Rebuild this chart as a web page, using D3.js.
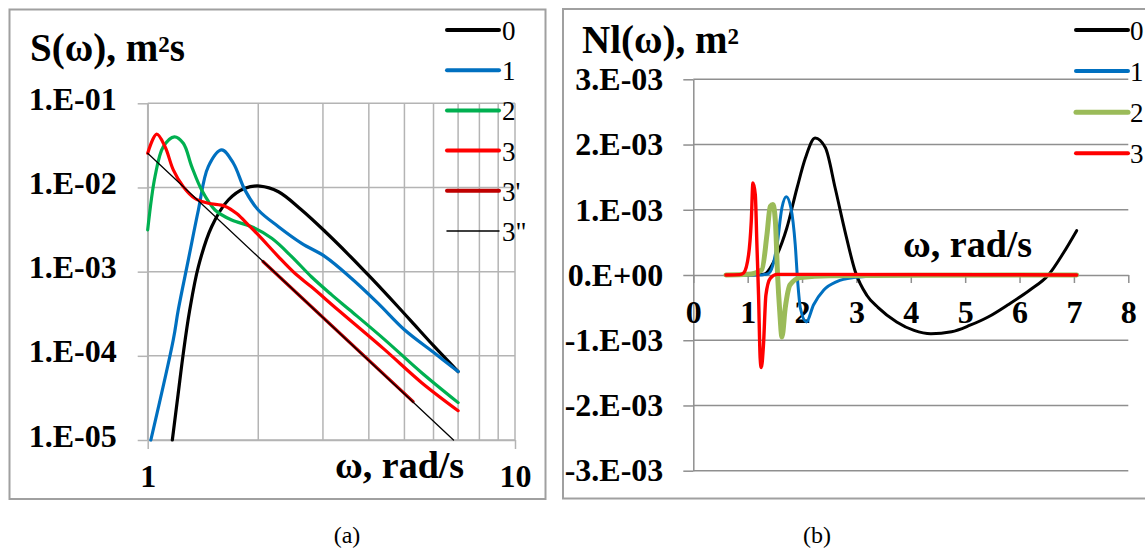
<!DOCTYPE html>
<html>
<head>
<meta charset="utf-8">
<script src="https://cdn.jsdelivr.net/npm/d3@7"></script>
<style>
  html, body { margin: 0; padding: 0; background: #fff; }
  svg { display: block; font-family: "Liberation Serif", "Times New Roman", serif; }
</style>
</head>
<body>
<svg id="fig" width="1145" height="550"></svg>
<script>
// ---------- (a) wave spectra S(ω), log-log ----------
const specTicksY  = [1e-1, 1e-2, 1e-3, 1e-4, 1e-5];
const specLabelsY = ["1.E-01", "1.E-02", "1.E-03", "1.E-04", "1.E-05"];
const specTicksX  = [1, 10];
const specLabelsX = ["1", "10"];
const specGridX   = [1, 2, 3, 4, 5, 6, 7, 8, 9, 10];
const specNames   = ["0", "1", "2", "3", "3'", "3\""];

const spec0W = [1.167, 1.21, 1.25, 1.30, 1.374, 1.493, 1.657, 1.84, 2.02, 2.27, 2.625, 3.04, 3.51, 4.07, 4.81, 5.23, 6.0, 7.0];
const spec0S = [1.0e-5, 3.5e-5, 1.07e-4, 3.4e-4, 1.15e-3, 3.42e-3, 7.1e-3, 9.8e-3, 1.04e-2, 8.9e-3, 5.4e-3, 3.0e-3, 1.62e-3, 8.3e-4, 3.8e-4, 2.55e-4, 1.32e-4, 6.5e-5];

const spec1W = [1.02, 1.174, 1.211, 1.29, 1.374, 1.462, 1.59, 1.711, 1.84, 2.0, 2.27, 2.625, 3.04, 3.59, 4.24, 5.0, 6.0, 7.0];
const spec1S = [1.0e-5, 1.55e-4, 3.5e-4, 1.38e-3, 5.4e-3, 1.77e-2, 2.79e-2, 1.94e-2, 9.3e-3, 5.4e-3, 3.42e-3, 2.17e-3, 1.51e-3, 8.3e-4, 4.2e-4, 2.04e-4, 1.1e-4, 6.5e-5];

const spec2W = [1.0, 1.047, 1.103, 1.182, 1.25, 1.318, 1.403, 1.525, 1.693, 1.918, 2.176, 2.466, 2.79, 3.17, 3.55, 4.4, 5.57, 7.0];
const spec2S = [3.13e-3, 1.35e-2, 3.05e-2, 4.0e-2, 3.35e-2, 1.77e-2, 9.3e-3, 5.4e-3, 4.1e-3, 3.42e-3, 2.49e-3, 1.51e-3, 8.7e-4, 5.3e-4, 3.5e-4, 1.58e-4, 6.3e-5, 2.78e-5];

const spec3W = [1.0, 1.058, 1.115, 1.174, 1.25, 1.345, 1.462, 1.623, 1.747, 1.878, 2.0, 2.268, 2.52, 2.79, 3.30, 4.4, 5.57, 7.0];
const spec3S = [2.55e-2, 4.3e-2, 3.05e-2, 1.62e-2, 1.02e-2, 7.4e-3, 6.5e-3, 6.0e-3, 4.9e-3, 3.6e-3, 2.73e-3, 1.51e-3, 9.5e-4, 6.6e-4, 3.5e-4, 1.2e-4, 4.8e-5, 2.23e-5];

const spec3pW  = [2.06, 5.28];
const spec3pS  = [1.32e-3, 2.86e-5];
const spec3ppW = [1.0, 6.8];
const spec3ppS = [2.55e-2, 1.0e-5];

// ---------- (b) Nl(ω), linear ----------
const nlTicksY  = [3e-3, 2e-3, 1e-3, 0, -1e-3, -2e-3, -3e-3];
const nlLabelsY = ["3.E-03", "2.E-03", "1.E-03", "0.E+00", "-1.E-03", "-2.E-03", "-3.E-03"];
const nlTicksX  = [0, 1, 2, 3, 4, 5, 6, 7, 8];
const nlLabelsX = ["0", "1", "2", "3", "4", "5", "6", "7", "8"];
const nlNames   = ["0", "1", "2", "3"];

const nl0W = [0.6, 1.0, 1.29, 1.54, 1.72, 1.906, 2.06, 2.24, 2.43, 2.61, 2.79, 2.98, 3.19, 3.4, 3.74, 4.06, 4.37, 4.75, 5.09, 5.43, 5.78, 6.19, 6.53, 6.8, 7.05];
const nl0V = [0, 0, 0.01e-3, 0.31e-3, 0.72e-3, 1.33e-3, 1.79e-3, 2.1e-3, 1.95e-3, 1.33e-3, 0.67e-3, 0.05e-3, -0.31e-3, -0.5e-3, -0.72e-3, -0.85e-3, -0.9e-3, -0.87e-3, -0.77e-3, -0.64e-3, -0.46e-3, -0.23e-3, 0, 0.33e-3, 0.68e-3];

const nl1W = [0.6, 1.2, 1.35, 1.415, 1.54, 1.63, 1.71, 1.795, 1.875, 1.92, 1.97, 2.08, 2.21, 2.40, 2.64, 2.95, 3.5, 7.05];
const nl1V = [0, 0, 0.01e-3, 0.05e-3, 0.46e-3, 1.03e-3, 1.2e-3, 1.03e-3, 0.46e-3, -0.1e-3, -0.51e-3, -0.72e-3, -0.46e-3, -0.23e-3, -0.1e-3, -0.04e-3, -0.01e-3, 0];

const nl2W = [0.6, 1.0, 1.26, 1.355, 1.415, 1.465, 1.51, 1.55, 1.59, 1.63, 1.69, 1.78, 1.97, 2.5, 7.05];
const nl2V = [0, 0.01e-3, 0.08e-3, 0.62e-3, 1.05e-3, 1.08e-3, 0.82e-3, 0, -0.56e-3, -0.95e-3, -0.51e-3, -0.15e-3, -0.04e-3, -0.01e-3, 0];

const nl3W = [0.6, 0.85, 0.925, 1.017, 1.066, 1.097, 1.14, 1.17, 1.2, 1.23, 1.25, 1.29, 1.335, 1.415, 1.54, 2.0, 7.05];
const nl3V = [0, 0.005e-3, 0.03e-3, 0.31e-3, 0.82e-3, 1.41e-3, 1.23e-3, 0.46e-3, -0.31e-3, -1.28e-3, -1.42e-3, -1.08e-3, -0.31e-3, -0.05e-3, 0.01e-3, 0.01e-3, 0];

// ---------- styling ----------
const gridColL = "#b4b4b4", gridColR = "#8f8f8f", frameCol = "#a0a0a0";
const specColors = ["#000000", "#0070c0", "#00b050", "#ff0000", "#c00000", "#000000"];
const specWidths = [3.2, 3.2, 3.2, 3.2, 3.2, 1.3];
const nlColors   = ["#000000", "#0070c0", "#9bbb59", "#ff0000"];
const nlWidths   = [3, 3, 5, 3.4];
const tickFont = 32;

const svg = d3.select("#fig");
const zip = (w, v) => w.map((x, i) => [x, v[i]]);

// ===== panel (a) =====
svg.append("rect").attr("x", 9.5).attr("y", 9.5).attr("width", 536).attr("height", 489.5)
  .attr("fill", "none").attr("stroke", frameCol).attr("stroke-width", 2);

const xL = d3.scaleLog().domain([1, 10]).range([147.7, 515]);
const yL = d3.scaleLog().domain([1e-5, 1e-1]).range([440, 103.3]);

const gA = svg.append("g");
// grid
gA.append("g").selectAll("line").data(specTicksY).join("line")
  .attr("x1", xL(1)).attr("x2", xL(10)).attr("y1", d => yL(d)).attr("y2", d => yL(d))
  .attr("stroke", gridColL).attr("stroke-width", 1.5);
gA.append("g").selectAll("line").data(specGridX).join("line")
  .attr("x1", d => xL(d)).attr("x2", d => xL(d)).attr("y1", yL(1e-1)).attr("y2", yL(1e-5))
  .attr("stroke", gridColL).attr("stroke-width", 1.5);

// axes
const axYL = gA.append("g").attr("transform", `translate(${xL(1)},0)`)
  .call(d3.axisLeft(yL).tickValues(specTicksY).tickFormat((d, i) => specLabelsY[i])
        .tickSize(10).tickSizeOuter(0).tickPadding(21));
const axXL = gA.append("g").attr("transform", `translate(0,${yL(1e-5)})`)
  .call(d3.axisBottom(xL).tickValues(specTicksX).tickFormat((d, i) => specLabelsX[i])
        .tickSize(9).tickSizeOuter(0));
[axYL, axXL].forEach(a => {
  a.selectAll("path.domain").attr("stroke", gridColL).attr("stroke-width", 1.5);
  a.selectAll(".tick line").attr("stroke", gridColL).attr("stroke-width", 1.5);
  a.selectAll("text").attr("font-family", "Liberation Serif, serif").attr("font-size", tickFont)
    .attr("font-weight", "bold").attr("fill", "#000");
});
axYL.selectAll("text").attr("dy", "0.19em");
axXL.selectAll("text").attr("y", 46.7).attr("dy", 0);

// series
const lineL = d3.line().x(d => xL(d[0])).y(d => yL(d[1])).curve(d3.curveCatmullRom.alpha(0.5));
const lineLstraight = d3.line().x(d => xL(d[0])).y(d => yL(d[1]));
const specSeries = [
  zip(spec0W, spec0S), zip(spec1W, spec1S), zip(spec2W, spec2S), zip(spec3W, spec3S),
  zip(spec3pW, spec3pS), zip(spec3ppW, spec3ppS)
];
specSeries.forEach((s, i) => {
  gA.append("path").attr("d", i >= 4 ? lineLstraight(s) : lineL(s))
    .attr("fill", "none").attr("stroke", specColors[i]).attr("stroke-width", specWidths[i])
    .attr("stroke-linejoin", "round").attr("stroke-linecap", "round");
});

// legend
const legA = gA.append("g");
specNames.forEach((n, i) => {
  const y = 30 + i * 40.2;
  legA.append("line").attr("x1", 447).attr("x2", 499).attr("y1", y).attr("y2", y)
    .attr("stroke", specColors[i]).attr("stroke-width", i === 5 ? 1.5 : 4).attr("stroke-linecap", "round");
  legA.append("text").attr("x", 502).attr("y", y + 10).attr("font-size", 27).text(n);
});

// titles
const tA = gA.append("text").attr("x", 30).attr("y", 61).attr("font-size", 39).attr("font-weight", "bold");
tA.append("tspan").text("S(ω), m");
tA.append("tspan").attr("font-size", 23).attr("dy", -9).text("2");
tA.append("tspan").attr("dy", 9).text("s");
gA.append("text").attr("x", 335).attr("y", 478).attr("font-size", 38).attr("font-weight", "bold").text("ω, rad/s");
svg.append("text").attr("x", 347).attr("y", 543).attr("text-anchor", "middle").attr("font-size", 24).text("(a)");

// ===== panel (b) =====
svg.append("rect").attr("x", 563).attr("y", 9).attr("width", 620).attr("height", 489.5)
  .attr("fill", "none").attr("stroke", frameCol).attr("stroke-width", 2);

const xR = d3.scaleLinear().domain([0, 8]).range([693.3, 1128.3]);
const yR = d3.scaleLinear().domain([-3e-3, 3e-3]).range([470.7, 79.3]);

const gB = svg.append("g");
gB.append("g").selectAll("line").data(nlTicksY.filter(d => d !== 0)).join("line")
  .attr("x1", xR(0)).attr("x2", xR(8)).attr("y1", d => yR(d)).attr("y2", d => yR(d))
  .attr("stroke", gridColR).attr("stroke-width", 1.5);

const axYR = gB.append("g").attr("transform", `translate(${xR(0)},0)`)
  .call(d3.axisLeft(yR).tickValues(nlTicksY).tickFormat((d, i) => nlLabelsY[i])
        .tickSize(10).tickSizeOuter(0).tickPadding(20));
const axXR = gB.append("g").attr("transform", `translate(0,${yR(0)})`)
  .call(d3.axisBottom(xR).tickValues(nlTicksX).tickFormat((d, i) => nlLabelsX[i])
        .tickSize(8).tickSizeOuter(0));
[axYR, axXR].forEach(a => {
  a.selectAll("path.domain").attr("stroke", gridColR).attr("stroke-width", 1.5);
  a.selectAll(".tick line").attr("stroke", gridColR).attr("stroke-width", 1.5);
  a.selectAll("text").attr("font-family", "Liberation Serif, serif").attr("font-size", tickFont)
    .attr("font-weight", "bold").attr("fill", "#000");
});
axXR.selectAll("text").attr("y", 48).attr("dy", 0);

const lineR = d3.line().x(d => xR(d[0])).y(d => yR(d[1])).curve(d3.curveMonotoneX);
const nlSeries = [zip(nl0W, nl0V), zip(nl1W, nl1V), zip(nl2W, nl2V), zip(nl3W, nl3V)];
nlSeries.forEach((s, i) => {
  gB.append("path").attr("d", lineR(s))
    .attr("fill", "none").attr("stroke", nlColors[i]).attr("stroke-width", nlWidths[i])
    .attr("stroke-linejoin", "round").attr("stroke-linecap", "round");
});

const legB = gB.append("g");
nlNames.forEach((n, i) => {
  const y = 30 + i * 41.1;
  legB.append("line").attr("x1", 1076).attr("x2", 1128).attr("y1", y).attr("y2", y)
    .attr("stroke", nlColors[i]).attr("stroke-width", i === 2 ? 5 : 4).attr("stroke-linecap", "round");
  legB.append("text").attr("x", 1130).attr("y", y + 10).attr("font-size", 27).text(n);
});

const tB = gB.append("text").attr("x", 582).attr("y", 53).attr("font-size", 39).attr("font-weight", "bold");
tB.append("tspan").text("Nl(ω), m");
tB.append("tspan").attr("font-size", 23).attr("dy", -9).text("2");
gB.append("text").attr("x", 903).attr("y", 257).attr("font-size", 38).attr("font-weight", "bold").text("ω, rad/s");
svg.append("text").attr("x", 817).attr("y", 543).attr("text-anchor", "middle").attr("font-size", 24).text("(b)");
</script>
</body>
</html>
